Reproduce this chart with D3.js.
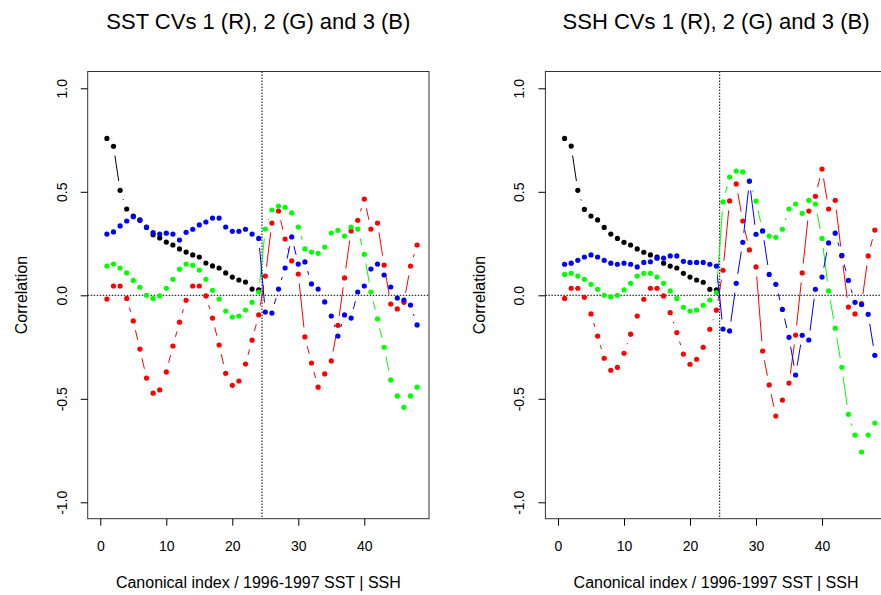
<!DOCTYPE html>
<html>
<head>
<meta charset="utf-8">
<script src="https://cdn.jsdelivr.net/npm/d3@7"></script>
<style>
  html, body { margin: 0; padding: 0; background: #fff; }
  svg { display: block; font-family: "Liberation Sans", Arial, Helvetica, sans-serif; }
</style>
</head>
<body>
<svg id="chart" width="881" height="595"></svg>
<script>
// Canonical correlations, indices 1..48 (black series covers 1..24 only)
const tickValuesX = [0, 10, 20, 30, 40];
const tickValuesY = [-1, -0.5, 0, 0.5, 1];
const tickLabelsY = ["-1.0", "-0.5", "0.0", "0.5", "1.0"];
const splitIndex = 24.5;

const sstBlack = [0.758, 0.72, 0.507, 0.417, 0.383, 0.364, 0.328, 0.293, 0.277, 0.257, 0.243, 0.224,
  0.209, 0.195, 0.185, 0.156, 0.142, 0.132, 0.108, 0.088, 0.074, 0.064, 0.030, 0.026];
const sstRed = [-0.018, 0.045, 0.045, -0.015, -0.124, -0.26, -0.40, -0.473, -0.457, -0.37, -0.245, -0.13,
  -0.024, 0.045, 0.045, -0.003, -0.11, -0.24, -0.377, -0.435, -0.414, -0.332, -0.217, -0.095,
  0.093, 0.349, 0.407, 0.272, 0.166, 0.103, -0.201, -0.327, -0.444, -0.38, -0.317, -0.145,
  0.084, 0.311, 0.362, 0.465, 0.32, 0.349, 0.146, -0.042, -0.066, -0.034, 0.141, 0.243];
const sstGreen = [0.141, 0.151, 0.132, 0.108, 0.072, 0.039, 0.0, -0.015, -0.003, 0.034, 0.077, 0.126,
  0.151, 0.145, 0.122, 0.077, 0.024, -0.018, -0.076, -0.105, -0.1, -0.071, -0.034, 0.016,
  0.32, 0.412, 0.431, 0.425, 0.398, 0.33, 0.224, 0.209, 0.203, 0.233, 0.301, 0.314,
  0.286, 0.33, 0.32, 0.198, 0.016, -0.114, -0.251, -0.409, -0.486, -0.541, -0.486, -0.444];
const sstBlue = [0.296, 0.306, 0.335, 0.359, 0.38, 0.362, 0.33, 0.303, 0.296, 0.30, 0.296, 0.267,
  0.304, 0.319, 0.34, 0.354, 0.373, 0.373, 0.33, 0.309, 0.309, 0.319, 0.296, 0.275,
  -0.081, -0.086, 0.030, 0.132, 0.282, 0.151, 0.161, 0.055, 0.030, -0.032, -0.1, -0.197,
  -0.095, -0.11, 0.016, 0.045, 0.127, 0.151, 0.098, 0.04, -0.013, -0.023, -0.047, -0.143];

const sshBlack = [0.758, 0.721, 0.507, 0.415, 0.383, 0.364, 0.328, 0.296, 0.275, 0.256, 0.243, 0.224,
  0.208, 0.195, 0.184, 0.155, 0.141, 0.132, 0.106, 0.088, 0.074, 0.063, 0.029, 0.026];
const sshRed = [-0.015, 0.034, 0.034, -0.01, -0.09, -0.197, -0.304, -0.362, -0.348, -0.28, -0.188, -0.1,
  -0.019, 0.034, 0.034, -0.003, -0.084, -0.18, -0.284, -0.333, -0.309, -0.251, -0.164, -0.072,
  0.121, 0.456, 0.538, 0.359, 0.219, 0.137, -0.269, -0.433, -0.583, -0.506, -0.424, -0.192,
  0.108, 0.407, 0.478, 0.61, 0.417, 0.459, 0.19, -0.057, -0.09, -0.04, 0.19, 0.315];
const sshGreen = [0.101, 0.106, 0.093, 0.077, 0.053, 0.029, 0.0, -0.008, 0.0, 0.026, 0.058, 0.093,
  0.106, 0.106, 0.088, 0.058, 0.021, -0.015, -0.058, -0.076, -0.071, -0.048, -0.023, 0.013,
  0.451, 0.571, 0.6, 0.596, 0.55, 0.455, 0.31, 0.286, 0.28, 0.319, 0.417, 0.441,
  0.396, 0.459, 0.441, 0.275, 0.021, -0.159, -0.348, -0.575, -0.675, -0.757, -0.675, -0.617];
const sshBlue = [0.150, 0.155, 0.169, 0.185, 0.195, 0.185, 0.169, 0.155, 0.150, 0.155, 0.150, 0.137,
  0.159, 0.162, 0.179, 0.18, 0.19, 0.19, 0.164, 0.159, 0.159, 0.159, 0.150, 0.141,
  -0.163, -0.172, 0.058, 0.256, 0.552, 0.295, 0.311, 0.101, 0.053, -0.068, -0.203, -0.385,
  -0.193, -0.216, 0.029, 0.088, 0.253, 0.3, 0.193, 0.072, -0.034, -0.045, -0.092, -0.29];

const panels = [
  { title: "SST CVs 1 (R), 2 (G) and 3 (B)", offset: 0,
    series: [[sstBlack, "#000000"], [sstRed, "#ff0000"], [sstGreen, "#00ff00"], [sstBlue, "#0000ff"]] },
  { title: "SSH CVs 1 (R), 2 (G) and 3 (B)", offset: 457.7,
    series: [[sshBlack, "#000000"], [sshRed, "#ff0000"], [sshGreen, "#00ff00"], [sshBlue, "#0000ff"]] }
];

const svg = d3.select("#chart");
const box = { left: 87.7, right: 429, top: 71.5, bottom: 518.7 };
const gap = 9.5;      // gap left between a line segment and each point
const radius = 2.6;

panels.forEach(p => {
  const g = svg.append("g").attr("transform", `translate(${p.offset},0)`);
  const x = d3.scaleLinear().domain([0, 40]).range([100.3, 364.3]);
  const y = d3.scaleLinear().domain([-1, 1]).range([502.3, 88.3]);

  // reference lines
  g.append("line")
    .attr("x1", box.left).attr("x2", box.right)
    .attr("y1", y(0)).attr("y2", y(0))
    .attr("stroke", "#000").attr("stroke-width", 1).attr("stroke-dasharray", "1.5,1.5");
  g.append("line")
    .attr("x1", x(splitIndex)).attr("x2", x(splitIndex))
    .attr("y1", box.top).attr("y2", box.bottom)
    .attr("stroke", "#000").attr("stroke-width", 1).attr("stroke-dasharray", "1.5,1.5");

  // series: points joined by segments that stop short of each point
  p.series.forEach(([vals, col]) => {
    const pts = vals.map((v, i) => [x(i + 1), y(v)]);
    const segs = [];
    for (let i = 0; i < pts.length - 1; i++) {
      const [x0, y0] = pts[i], [x1, y1] = pts[i + 1];
      const d = Math.hypot(x1 - x0, y1 - y0);
      if (d <= 2 * gap) continue;
      const ux = (x1 - x0) / d, uy = (y1 - y0) / d;
      segs.push([x0 + ux * gap, y0 + uy * gap, x1 - ux * gap, y1 - uy * gap]);
    }
    g.append("g").selectAll("line").data(segs).join("line")
      .attr("x1", d => d[0]).attr("y1", d => d[1])
      .attr("x2", d => d[2]).attr("y2", d => d[3])
      .attr("stroke", col).attr("stroke-width", 1);
    g.append("g").selectAll("circle").data(pts).join("circle")
      .attr("cx", d => d[0]).attr("cy", d => d[1]).attr("r", radius)
      .attr("fill", col);
  });

  // frame
  g.append("rect")
    .attr("x", box.left).attr("y", box.top)
    .attr("width", box.right - box.left).attr("height", box.bottom - box.top)
    .attr("fill", "none").attr("stroke", "#333").attr("stroke-width", 1);

  // axes
  const ax = g.append("g").attr("transform", `translate(0,${box.bottom})`)
    .call(d3.axisBottom(x).tickValues(tickValuesX).tickSize(7).tickPadding(15).tickFormat(d3.format("d")));
  ax.select(".domain").remove();
  ax.selectAll("text").attr("font-size", 14).attr("fill", "#000").attr("font-family", null);
  ax.selectAll("line").attr("stroke", "#000");

  const ay = g.append("g").attr("transform", `translate(${box.left},0)`)
    .call(d3.axisLeft(y).tickValues(tickValuesY).tickSize(7)
      .tickFormat((d, i) => tickLabelsY[i]));
  ay.select(".domain").remove();
  ay.selectAll("line").attr("stroke", "#000");
  ay.selectAll("text")
    .attr("font-size", 14).attr("fill", "#000").attr("font-family", null)
    .attr("x", null)
    .attr("text-anchor", "middle")
    .attr("transform", "translate(-26,0) rotate(-90)")
    .attr("dy", "0.35em");

  // titles and axis labels
  g.append("text")
    .attr("x", (box.left + box.right) / 2).attr("y", 29)
    .attr("text-anchor", "middle").attr("font-size", 22)
    .text(p.title);
  g.append("text")
    .attr("x", (box.left + box.right) / 2).attr("y", 588)
    .attr("text-anchor", "middle").attr("font-size", 16)
    .text("Canonical index / 1996-1997 SST | SSH");
  g.append("text")
    .attr("transform", `translate(27,${(box.top + box.bottom) / 2}) rotate(-90)`)
    .attr("text-anchor", "middle").attr("font-size", 16)
    .text("Correlation");
});
</script>
</body>
</html>
